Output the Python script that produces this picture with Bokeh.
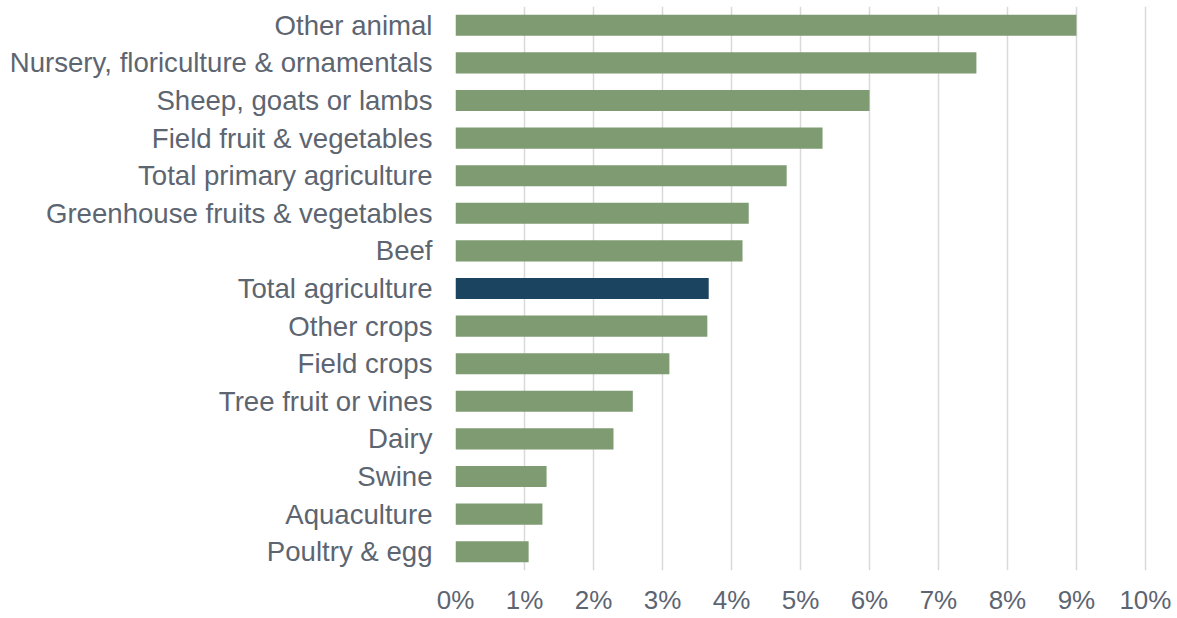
from bokeh.plotting import figure
from bokeh.models import ColumnDataSource, FixedTicker, PrintfTickFormatter, Range1d, FactorRange
from bokeh.embed import file_html
from bokeh.resources import INLINE

categories = [
    "Other animal",
    "Nursery, floriculture & ornamentals",
    "Sheep, goats or lambs",
    "Field fruit & vegetables",
    "Total primary agriculture",
    "Greenhouse fruits & vegetables",
    "Beef",
    "Total agriculture",
    "Other crops",
    "Field crops",
    "Tree fruit or vines",
    "Dairy",
    "Swine",
    "Aquaculture",
    "Poultry & egg",
]
values = [9.0, 7.55, 6.0, 5.32, 4.8, 4.25, 4.16, 3.67, 3.65, 3.1, 2.57, 2.29, 1.32, 1.26, 1.06]
highlight = "Total agriculture"
x_ticks = list(range(0, 11))

GREEN = "#7E9B71"
NAVY = "#1B4460"
TEXT = "#5D6571"
FONT = "Liberation Sans"

colors = [NAVY if c == highlight else GREEN for c in categories]
src = ColumnDataSource(dict(cat=categories, val=values, color=colors))

p = figure(
    frame_width=692, frame_height=564,
    y_range=FactorRange(*list(reversed(categories)), range_padding=0),
    x_range=Range1d(0, 10.03),
    output_backend="svg", toolbar_location=None,
    min_border_left=455, min_border_right=27, min_border_top=6, min_border_bottom=38,
)
p.hbar(y="cat", right="val", left=0, height=0.56, fill_color="color", line_color=None, source=src)

p.outline_line_color = None
p.ygrid.grid_line_color = None
p.xgrid.grid_line_color = "#D9D9D9"
p.xgrid.grid_line_width = 1.5
p.xaxis.ticker = FixedTicker(ticks=x_ticks)
p.xaxis.formatter = PrintfTickFormatter(format="%d%%")
for ax in (p.xaxis, p.yaxis):
    ax.axis_line_color = None
    ax.major_tick_line_color = None
    ax.minor_tick_line_color = None
    ax.major_label_text_font = FONT
    ax.major_label_text_color = TEXT
p.yaxis.major_label_text_font_size = "27.6px"
p.xaxis.major_label_text_font_size = "26px"
p.yaxis.major_label_standoff = 17
p.xaxis.major_label_standoff = 8

open("out.html", "w").write(file_html(p, INLINE))
